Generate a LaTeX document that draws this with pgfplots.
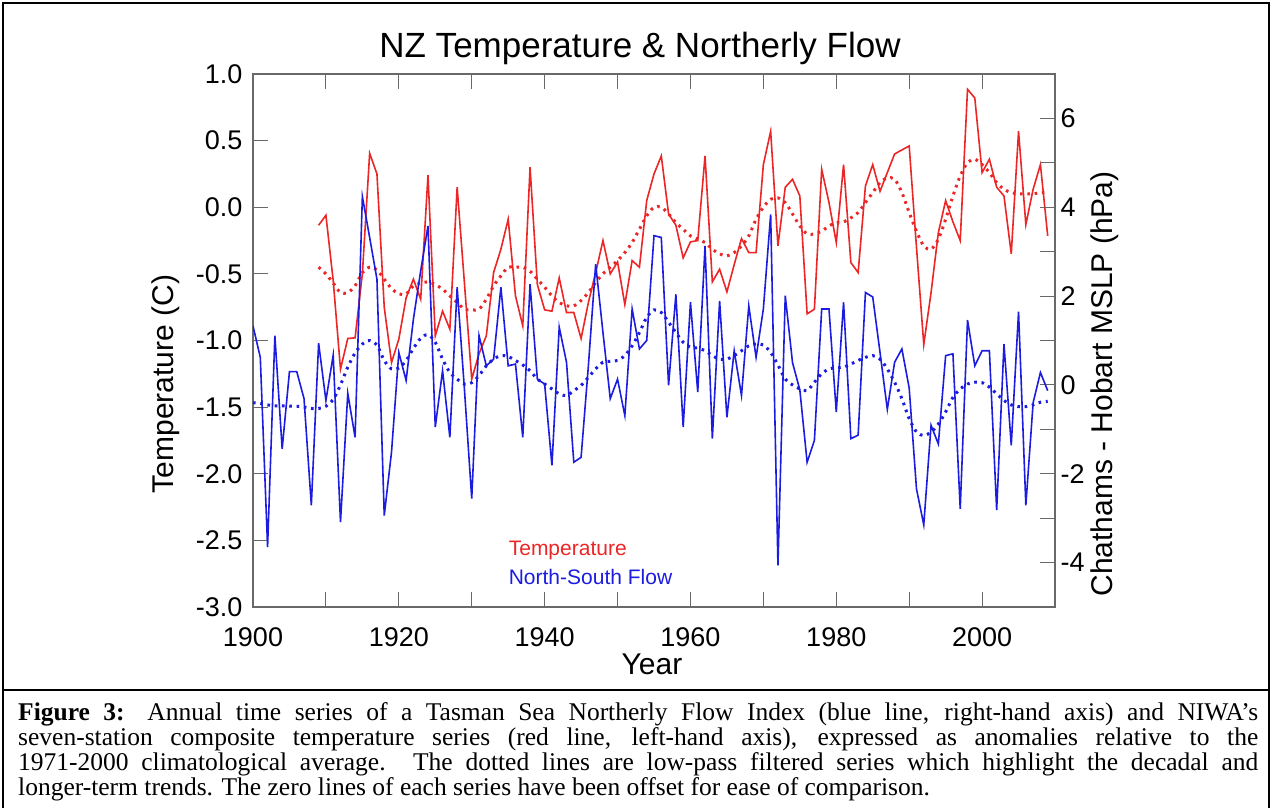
\documentclass[border=0pt]{standalone}
\usepackage{fontspec}
\setmainfont{Liberation Sans}
\newfontfamily\capfont{Liberation Serif}
\usepackage{pgfplots}
\usepackage{pgfplotstable}
\pgfplotsset{compat=1.18}
\definecolor{tred}{RGB}{236,38,38}
\definecolor{fblue}{RGB}{28,28,225}
\definecolor{axgray}{RGB}{105,105,105}

\pgfplotstableread{
year temp
1909 -0.135
1910 -0.06
1911 -0.55
1912 -1.215
1913 -0.985
1914 -0.98
1915 -0.50
1916 0.405
1917 0.25
1918 -0.75
1919 -1.165
1920 -0.99
1921 -0.68
1922 -0.54
1923 -0.69
1924 0.24
1925 -0.965
1926 -0.78
1927 -0.915
1928 0.15
1929 -0.57
1930 -1.29
1931 -1.10
1932 -0.965
1933 -0.49
1934 -0.315
1935 -0.09
1936 -0.665
1937 -0.89
1938 0.30
1939 -0.58
1940 -0.77
1941 -0.78
1942 -0.53
1943 -0.79
1944 -0.79
1945 -0.985
1946 -0.715
1947 -0.49
1948 -0.25
1949 -0.50
1950 -0.41
1951 -0.73
1952 -0.40
1953 -0.45
1954 0.05
1955 0.25
1956 0.385
1957 -0.05
1958 -0.135
1959 -0.38
1960 -0.26
1961 -0.25
1962 0.385
1963 -0.56
1964 -0.465
1965 -0.635
1966 -0.43
1967 -0.235
1968 -0.34
1969 -0.34
1970 0.32
1971 0.57
1972 -0.29
1973 0.15
1974 0.21
1975 0.085
1976 -0.80
1977 -0.765
1978 0.285
1979 0.035
1980 -0.265
1981 0.32
1982 -0.415
1983 -0.49
1984 0.16
1985 0.32
1986 0.12
1987 0.26
1988 0.40
1989 0.43
1990 0.46
1991 -0.30
1992 -1.03
1993 -0.64
1994 -0.19
1995 0.05
1996 -0.11
1997 -0.25
1998 0.885
1999 0.82
2000 0.26
2001 0.36
2002 0.15
2003 0.085
2004 -0.35
2005 0.57
2006 -0.13
2007 0.135
2008 0.32
2009 -0.215
}\temptable

\pgfplotstableread{
year temp
1909 -0.45
1910 -0.50
1911 -0.57
1912 -0.64
1913 -0.64
1914 -0.59
1915 -0.49
1916 -0.45
1917 -0.47
1918 -0.54
1919 -0.61
1920 -0.65
1921 -0.65
1922 -0.59
1923 -0.57
1924 -0.56
1925 -0.58
1926 -0.615
1927 -0.665
1928 -0.715
1929 -0.765
1930 -0.77
1931 -0.765
1932 -0.69
1933 -0.59
1934 -0.515
1935 -0.45
1936 -0.45
1937 -0.45
1938 -0.48
1939 -0.54
1940 -0.60
1941 -0.665
1942 -0.715
1943 -0.74
1944 -0.74
1945 -0.70
1946 -0.64
1947 -0.565
1948 -0.50
1949 -0.45
1950 -0.40
1951 -0.34
1952 -0.265
1953 -0.165
1954 -0.065
1955 0.0
1956 0.0
1957 -0.05
1958 -0.115
1959 -0.165
1960 -0.215
1961 -0.24
1962 -0.265
1963 -0.315
1964 -0.35
1965 -0.365
1966 -0.34
1967 -0.29
1968 -0.215
1969 -0.09
1970 0.0
1971 0.06
1972 0.07
1973 0.035
1974 -0.05
1975 -0.14
1976 -0.20
1977 -0.20
1978 -0.18
1979 -0.14
1980 -0.115
1981 -0.11
1982 -0.08
1983 -0.04
1984 0.035
1985 0.11
1986 0.185
1987 0.22
1988 0.21
1989 0.11
1990 -0.04
1991 -0.18
1992 -0.29
1993 -0.315
1994 -0.24
1995 -0.09
1996 0.085
1997 0.235
1998 0.335
1999 0.36
2000 0.32
2001 0.26
2002 0.185
2003 0.135
2004 0.11
2005 0.10
2006 0.10
2007 0.10
2008 0.11
2009 0.11
}\tempsmooth

\pgfplotstableread{
year flow
1900 1.33
1901 0.62
1902 -3.65
1903 1.11
1904 -1.44
1905 0.30
1906 0.30
1907 -0.31
1908 -2.71
1909 0.94
1910 -0.35
1911 0.67
1912 -3.09
1913 -0.19
1914 -1.18
1915 4.24
1916 3.32
1917 2.38
1918 -2.94
1919 -1.51
1920 0.73
1921 0.10
1922 1.48
1923 2.57
1924 3.58
1925 -0.95
1926 0.32
1927 -1.18
1928 2.20
1929 -0.10
1930 -2.56
1931 1.11
1932 0.43
1933 0.58
1934 2.20
1935 0.43
1936 0.47
1937 -1.18
1938 2.27
1939 0.13
1940 0.02
1941 -1.81
1942 1.30
1943 0.51
1944 -1.74
1945 -1.63
1946 0.43
1947 2.72
1948 1.18
1949 -0.31
1950 0.13
1951 -0.69
1952 1.71
1953 0.81
1954 1.00
1955 3.36
1956 3.32
1957 -0.01
1958 2.04
1959 -0.95
1960 1.86
1961 -0.16
1962 3.13
1963 -1.21
1964 1.89
1965 -0.73
1966 0.77
1967 -0.24
1968 1.78
1969 0.62
1970 1.71
1971 3.84
1972 -4.06
1973 2.01
1974 0.50
1975 -0.11
1976 -1.74
1977 -1.25
1978 1.71
1979 1.71
1980 -0.61
1981 1.86
1982 -1.21
1983 -1.13
1984 2.08
1985 1.98
1986 0.73
1987 -0.55
1988 0.51
1989 0.81
1990 -0.07
1991 -2.34
1992 -3.15
1993 -0.91
1994 -1.33
1995 0.66
1996 0.70
1997 -2.79
1998 1.46
1999 0.43
2000 0.77
2001 0.77
2002 -2.82
2003 0.92
2004 -1.36
2005 1.65
2006 -2.71
2007 -0.40
2008 0.28
2009 -0.13
}\flowtable

\pgfplotstableread{
year flow
1900 -0.40
1901 -0.42
1902 -0.45
1903 -0.47
1904 -0.47
1905 -0.48
1906 -0.48
1907 -0.50
1908 -0.53
1909 -0.53
1910 -0.48
1911 -0.33
1912 0.00
1913 0.40
1914 0.72
1915 0.92
1916 1.00
1917 0.90
1918 0.55
1919 0.36
1920 0.38
1921 0.55
1922 0.82
1923 1.05
1924 1.13
1925 0.96
1926 0.58
1927 0.28
1928 0.13
1929 0.02
1930 0.05
1931 0.21
1932 0.43
1933 0.58
1934 0.66
1935 0.64
1936 0.55
1937 0.45
1938 0.32
1939 0.13
1940 0.02
1941 -0.09
1942 -0.20
1943 -0.24
1944 -0.13
1945 -0.01
1946 0.17
1947 0.36
1948 0.51
1949 0.53
1950 0.55
1951 0.66
1952 0.88
1953 1.18
1954 1.52
1955 1.69
1956 1.63
1957 1.41
1958 1.18
1959 0.96
1960 0.85
1961 0.83
1962 0.77
1963 0.66
1964 0.58
1965 0.58
1966 0.66
1967 0.77
1968 0.88
1969 0.92
1970 0.90
1971 0.73
1972 0.45
1973 0.13
1974 0.00
1975 -0.09
1976 -0.13
1977 0.06
1978 0.25
1979 0.36
1980 0.39
1981 0.40
1982 0.47
1983 0.55
1984 0.62
1985 0.66
1986 0.58
1987 0.36
1988 0.06
1989 -0.31
1990 -0.76
1991 -1.06
1992 -1.14
1993 -1.06
1994 -0.88
1995 -0.61
1996 -0.28
1997 -0.09
1998 0.02
1999 0.06
2000 0.05
2001 -0.05
2002 -0.20
2003 -0.35
2004 -0.45
2005 -0.49
2006 -0.49
2007 -0.45
2008 -0.39
2009 -0.37
}\flowsmooth

\begin{document}
\begin{tikzpicture}
\useasboundingbox (0pt,0pt) rectangle (1272pt,807pt);
\fill[white] (0pt,0pt) rectangle (1272pt,807pt);
\draw[black, line width=1.4pt] (3pt,-5pt) -- (3pt,804pt) -- (1269pt,804pt) -- (1269pt,-5pt);
\draw[black, line width=1.4pt] (3pt,117pt) -- (1269pt,117pt);

\pgfplotsset{
  base/.style={
    at={(253pt,200pt)}, anchor=south west, scale only axis,
    width=802pt, height=533pt,
    xmin=1900, xmax=2010,
    tick align=inside,
    major tick length=15pt, minor tick length=15pt,
    every tick/.style={axgray, line width=1pt},
    minor tick style={axgray, line width=1pt},
    axis line style={axgray, line width=1.3pt},
    tick label style={font=\fontsize{27}{30}\selectfont, black},
    /pgf/number format/assume math mode=true,
  },
}

\begin{axis}[base,
  ymin=-3, ymax=1,
  xtick={1900,1920,...,2000},
  minor xtick={1910,1930,...,2010},
  ytick={-3,-2.5,...,1},
  ytick pos=left,
  x tick label style={/pgf/number format/1000 sep={}, yshift=-17pt},
  y tick label style={xshift=-7pt, /pgf/number format/.cd, fixed, fixed zerofill, precision=1},
]
\addplot[tred, line width=1.6pt] table[x=year, y=temp] {\temptable};
\addplot[tred, line width=3pt, dash pattern=on 2.6pt off 4.7pt, smooth] table[x=year, y=temp] {\tempsmooth};
\end{axis}

\begin{axis}[base,
  ymin=-5, ymax=7,
  xtick=\empty,
  ytick={-4,-2,...,6},
  minor ytick={-5,-3,...,7},
  ytick pos=right, yticklabel pos=right,
  y tick label style={xshift=2pt},
]
\addplot[fblue, line width=1.6pt] table[x=year, y=flow] {\flowtable};
\addplot[fblue, line width=3pt, dash pattern=on 2.6pt off 4.7pt, smooth] table[x=year, y=flow] {\flowsmooth};
\node[anchor=west, text=tred, font=\fontsize{21}{24}\selectfont] at (axis cs:1934.6,-3.72) {Temperature};
\node[anchor=west, text=fblue, font=\fontsize{21}{24}\selectfont] at (axis cs:1934.6,-4.33) {North-South Flow};
\end{axis}

\node[font=\fontsize{35}{40}\selectfont] at (640pt,759pt) {NZ Temperature \& Northerly Flow};
\node[font=\fontsize{30}{34}\selectfont, rotate=90] at (166pt,423pt) {Temperature (C)};
\node[font=\fontsize{30}{34}\selectfont, rotate=90] at (1105pt,423pt) {Chathams - Hobart MSLP (hPa)};
\node[font=\fontsize{30}{34}\selectfont] at (652pt,143pt) {Year};

\begin{scope}[every node/.style={anchor=base west, inner sep=0pt, font=\capfont\fontsize{25.5}{27}\selectfont}]
\node at (18pt,87pt) {\makebox[1240pt][s]{\textbf{Figure 3:} Annual time series of a Tasman Sea Northerly Flow Index (blue line, right-hand axis) and NIWA’s}};
\node at (18pt,62pt) {\makebox[1240pt][s]{seven-station composite temperature series (red line, left-hand axis), expressed as anomalies relative to the}};
\node at (18pt,37pt) {\makebox[1240pt][s]{1971-2000 climatological average. The dotted lines are low-pass filtered series which highlight the decadal and}};
\node at (18pt,12pt) {longer-term trends. The zero lines of each series have been offset for ease of comparison.};
\end{scope}
\end{tikzpicture}
\end{document}
